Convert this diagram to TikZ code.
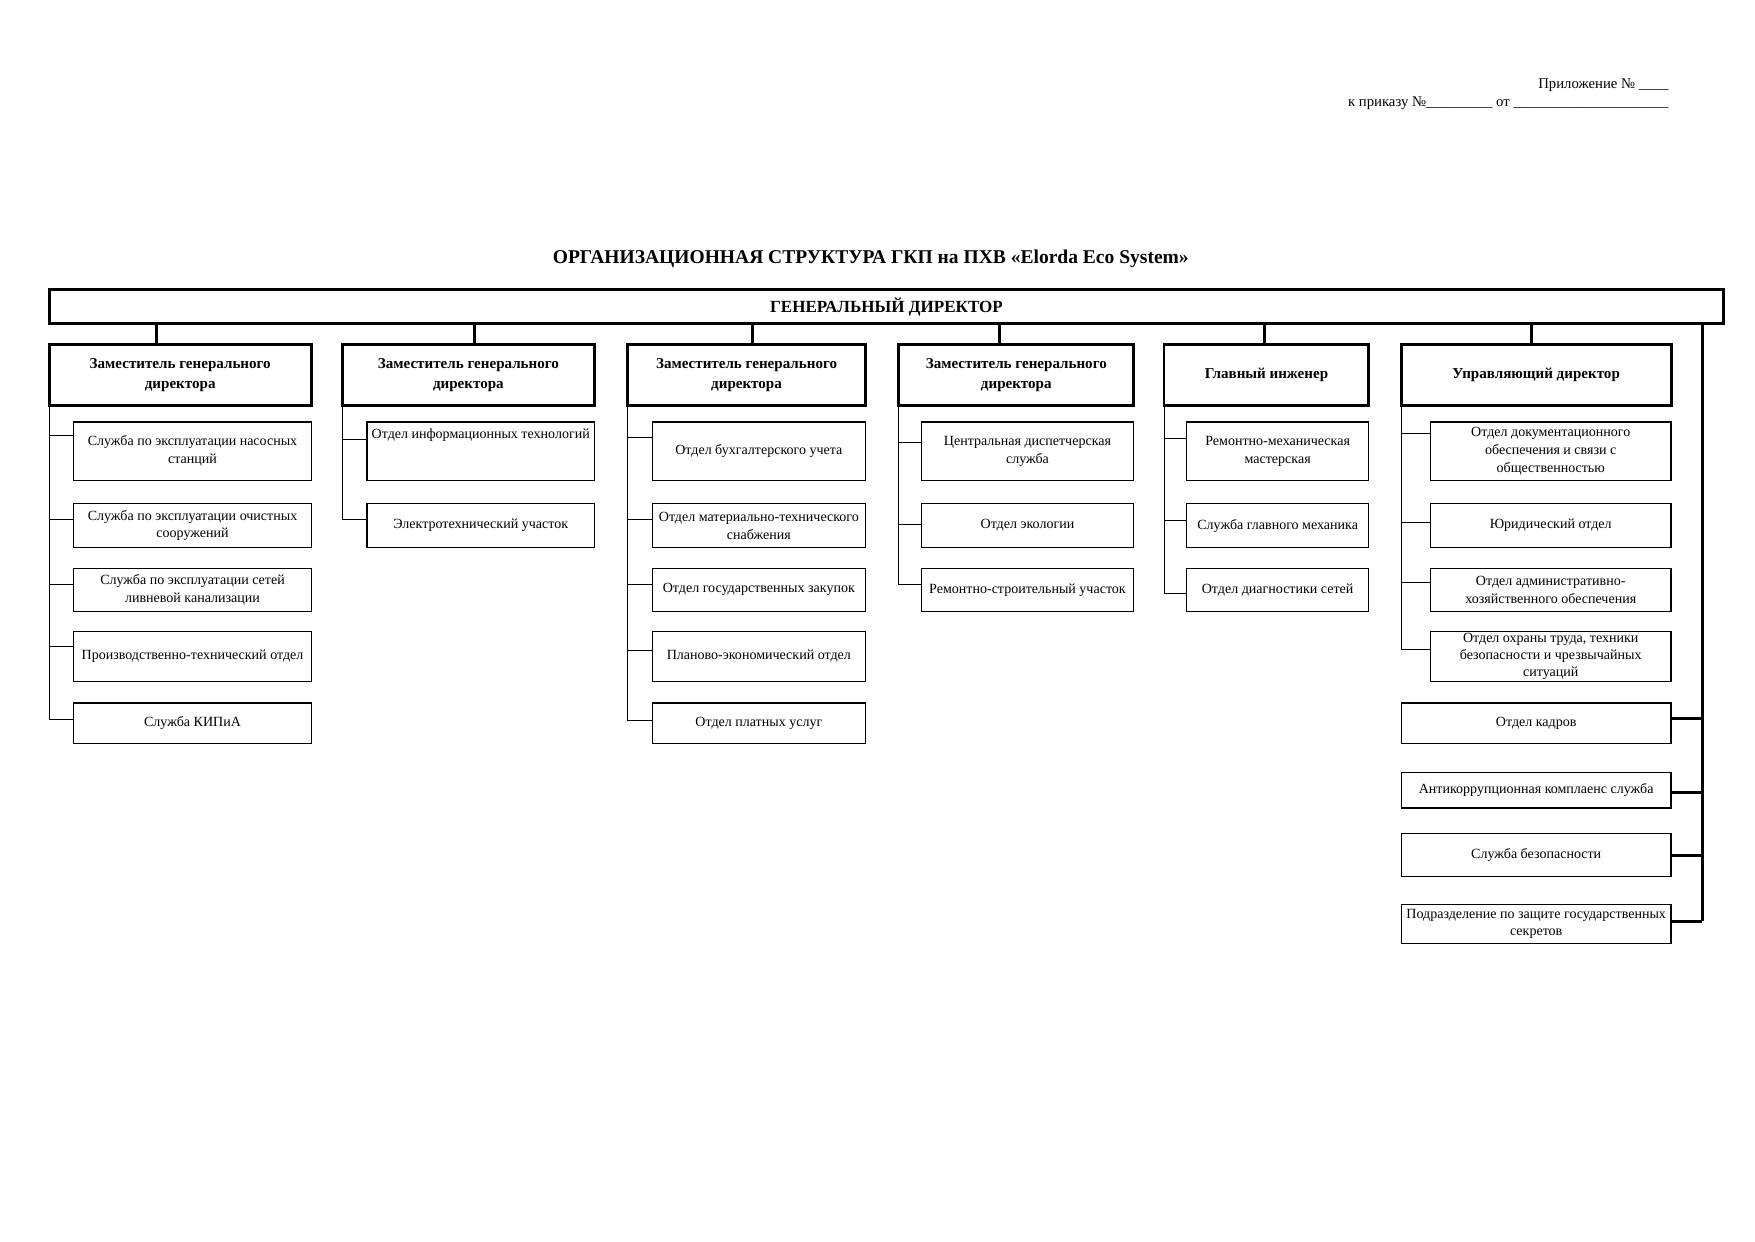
\documentclass[tikz,border=0pt]{standalone}
\usepackage{fontspec}
\setmainfont{Liberation Serif}
\usetikzlibrary{calc}
\tikzset{
  base/.style={draw, inner sep=0pt, outer sep=0pt, align=center, font=\fontsize{6.75}{8.6}\selectfont},
  cbox/.style={base, line width=0.6pt},
  dbox/.style={base, line width=1.4pt, font=\bfseries\fontsize{7.25}{9.7}\selectfont},
  gdbox/.style={base, line width=1.4pt, font=\bfseries\fontsize{8.2}{10}\selectfont},
  bus/.style={line width=0.5pt},
  trunk/.style={line width=1.4pt},
  hdr/.style={inner sep=0pt, font=\fontsize{7.1}{8.6}\selectfont},
  ttl/.style={inner sep=0pt, font=\bfseries\fontsize{9.4}{11}\selectfont},
  every label/.style={inner sep=0pt, font=\fontsize{6.75}{8.6}\selectfont},
}
% box from (x1,y1) to (x2,y2)
\newcommand\bx[7]{\node[#1, minimum width={(#5-#3)*0.018941cm}, minimum height={(#6-#4)*0.018941cm}] (#2) at ({(#3+#5)/2},{(#4+#6)/2}) {#7};}
\newcommand\conn[3]{\draw[bus] (#1.south west) |- ($(#2.north west)+(0,#3)$);}
\begin{document}
\begin{tikzpicture}[x=0.018941cm, y=-0.018941cm]
\useasboundingbox (0,0) rectangle (1568,1109);

% header
\node[hdr, anchor=base east] (app) at (1491,79) {Приложение № \_\_\_\_};
\node[hdr, anchor=base east] (ord) at (1491,95) {к приказу №\_\_\_\_\_\_\_\_\_ от \_\_\_\_\_\_\_\_\_\_\_\_\_\_\_\_\_\_\_\_\_};
\node[ttl, anchor=base] (title) at (778,235) {ОРГАНИЗАЦИОННАЯ СТРУКТУРА ГКП на ПХВ «Elorda Eco System»};

% general director
\bx{gdbox}{gd}{44}{259}{1540}{289}{ГЕНЕРАЛЬНЫЙ ДИРЕКТОР}

% deputies
\bx{dbox}{d1}{44}{308}{278}{362}{Заместитель генерального\\директора}
\bx{dbox}{d2}{306}{308}{531}{362}{Заместитель генерального\\директора}
\bx{dbox}{d3}{561}{308}{773}{362}{Заместитель генерального\\директора}
\bx{dbox}{d4}{803}{308}{1013}{362}{Заместитель генерального\\директора}
\bx{dbox}{d5}{1040}{308}{1223}{362}{Главный инженер}
\bx{dbox}{d6}{1252}{308}{1493}{362}{Управляющий директор}

% ticks from general director
\foreach \n/\x in {1/140,2/424,3/672,4/893,5/1130,6/1368}{
  \coordinate (t\n) at (\x,289);
  \draw[trunk] (t\n) -- (t\n |- d\n.north);
}

% column 1
\bx{cbox}{c11}{66}{377}{278}{429}{Служба по эксплуатации насосных\\станций}
\bx{cbox}{c12}{66}{450}{278}{489}{Служба по эксплуатации очистных\\сооружений}
\bx{cbox}{c13}{66}{508}{278}{546}{Служба по эксплуатации сетей\\ливневой канализации}
\bx{cbox}{c14}{66}{564}{278}{609}{Производственно-технический отдел}
\bx{cbox}{c15}{66}{628}{278}{664}{Служба КИПиА}
\conn{d1}{c11}{12}\conn{d1}{c12}{14}\conn{d1}{c13}{14}\conn{d1}{c14}{14}\conn{d1}{c15}{15}

% column 2
\node[cbox, minimum width={203*0.018941cm}, minimum height={52*0.018941cm},
  label={[anchor=north, yshift=-3pt]north:Отдел информационных технологий}] (c21) at (429.5,403) {};
\bx{cbox}{c22}{328}{450}{531}{489}{Электротехнический участок}
\conn{d2}{c21}{16}\conn{d2}{c22}{14}

% column 3
\bx{cbox}{c31}{583}{377}{773}{429}{Отдел бухгалтерского учета}
\bx{cbox}{c32}{583}{450}{773}{489}{Отдел материально-технического\\снабжения}
\bx{cbox}{c33}{583}{508}{773}{546}{Отдел государственных закупок}
\bx{cbox}{c34}{583}{564}{773}{609}{Планово-экономический отдел}
\bx{cbox}{c35}{583}{628}{773}{664}{Отдел платных услуг}
\conn{d3}{c31}{14}\conn{d3}{c32}{14}\conn{d3}{c33}{14}\conn{d3}{c34}{17}\conn{d3}{c35}{16}

% column 4
\bx{cbox}{c41}{823}{377}{1013}{429}{Центральная диспетчерская\\служба}
\bx{cbox}{c42}{823}{450}{1013}{489}{Отдел экологии}
\bx{cbox}{c43}{823}{508}{1013}{546}{Ремонтно-строительный участок}
\conn{d4}{c41}{18}\conn{d4}{c42}{19}\conn{d4}{c43}{14}

% column 5
\bx{cbox}{c51}{1060}{377}{1223}{429}{Ремонтно-механическая\\мастерская}
\bx{cbox}{c52}{1060}{450}{1223}{489}{Служба главного механика}
\bx{cbox}{c53}{1060}{508}{1223}{546}{Отдел диагностики сетей}
\conn{d5}{c51}{15}\conn{d5}{c52}{15}\conn{d5}{c53}{22}

% column 6
\bx{cbox}{c61}{1278}{377}{1493}{429}{Отдел документационного\\обеспечения и связи с\\общественностью}
\bx{cbox}{c62}{1278}{450}{1493}{489}{Юридический отдел}
\bx{cbox}{c63}{1278}{508}{1493}{546}{Отдел административно-\\хозяйственного обеспечения}
\bx{cbox,font=\fontsize{6.75}{8.2}\selectfont}{c64}{1278}{564}{1493}{609}{Отдел охраны труда, техники\\безопасности и чрезвычайных\\ситуаций}
\conn{d6}{c61}{10}\conn{d6}{c62}{17}\conn{d6}{c63}{12}\conn{d6}{c64}{16}

% directly subordinate units
\bx{cbox}{e1}{1252}{628}{1493}{664}{Отдел кадров}
\bx{cbox}{e2}{1252}{690}{1493}{722}{Антикоррупционная комплаенс служба}
\bx{cbox}{e3}{1252}{745}{1493}{783}{Служба безопасности}
\bx{cbox}{e4}{1252}{808}{1493}{843}{Подразделение по защите государственных\\секретов}
\coordinate (tr) at (1521,289);
\coordinate (k1) at ($(e1.north east)+(0,14)$);
\coordinate (k2) at ($(e2.north east)+(0,18)$);
\coordinate (k3) at ($(e3.north east)+(0,19)$);
\coordinate (k4) at ($(e4.north east)+(0,15)$);
\draw[trunk] (tr) -- (tr |- k4);
\foreach \k in {k1,k2,k3,k4}{\draw[trunk] (\k) -- (\k -| tr);}
\end{tikzpicture}
\end{document}
